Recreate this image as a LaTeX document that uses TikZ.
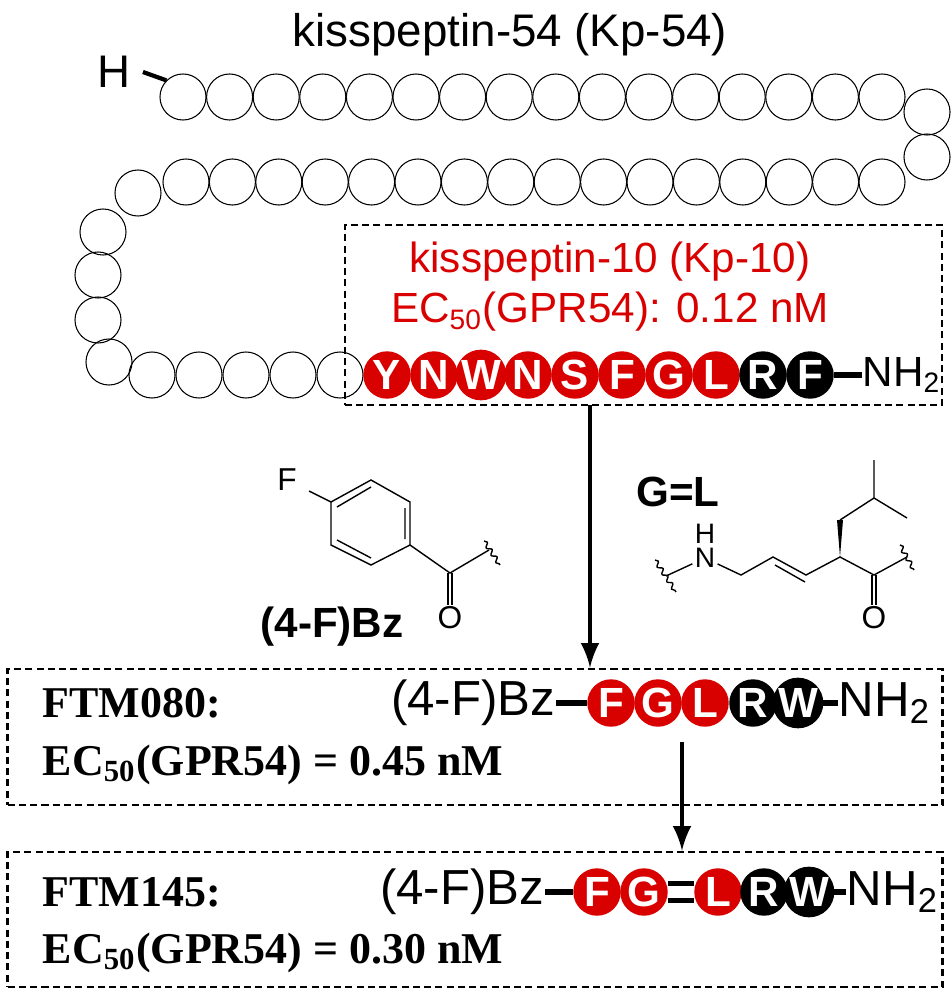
\documentclass[tikz,border=0pt]{standalone}
\usepackage{fontspec}
\setmainfont{Liberation Sans}
\newfontfamily\serifbf{Liberation Serif}
\usetikzlibrary{positioning,decorations.pathmorphing}

\begin{document}
\begin{tikzpicture}[
    x=0.01cm, y=-0.01cm,
    res/.style={circle, draw, line width=0.3pt, minimum size=0.46cm, inner sep=0pt},
    redres/.style={circle, draw=red!85!black, fill=red!85!black, text=white, minimum size=0.46cm, inner sep=0pt, font=\fontsize{12}{12}\selectfont\bfseries},
    blkres/.style={circle, draw=black, fill=black, text=white, minimum size=0.46cm, inner sep=0pt, font=\fontsize{12}{12}\selectfont\bfseries},
    dbox/.style={draw, dash pattern=on 2pt off 1.2pt, line width=0.7pt, inner sep=0pt},
    lbl/.style={font=\fontsize{12}{14}\selectfont},
    seq/.style={font=\fontsize{14}{14}\selectfont, inner sep=0pt},
    ftm/.style={font=\fontsize{12.5}{14}\selectfont\serifbf\bfseries, anchor=west, inner sep=0pt},
    bond/.style={line width=0.4pt},
    wavy/.style={line width=0.4pt, decorate, decoration={snake, amplitude=0.6pt, segment length=2.5pt}},
    arrow/.style={-latex, line width=1.4pt}
]
\useasboundingbox (0,0) rectangle (952,1000);

% Kp-54 chain
\node[lbl, font=\fontsize{13}{14}\selectfont] (title) at (510,35) {kisspeptin-54 (Kp-54)};
\node[lbl, font=\fontsize{13}{14}\selectfont] (hterm) at (114,72) {H};
\foreach \i in {0,...,15} {
    \node[res] (top\i) at (183+46.6*\i,97) {};
    \node[res] (mid\i) at (186+46.4*\i,182) {};
}
\node[res] (turn1) at (927,112) {};
\node[res] (turn2) at (927,157) {};
\node[res] (left1) at (138,193) {};
\node[res] (left2) at (103,232) {};
\node[res] (left3) at (98,275) {};
\node[res] (left4) at (98,320) {};
\node[res] (left5) at (109,362) {};
\foreach \i in {1,...,5}
    \node[res] (bot\i) at (387-47*\i,375) {};
\draw[line width=1.2pt] (hterm.east) -- (top0.north west);

% Kp-10
\node[dbox, minimum width=5.97cm, minimum height=1.8cm] (kpbox) at (643.5,315) {};
\node[lbl, text=red!85!black] (kpname) at (610,262) {kisspeptin-10 (Kp-10)};
\node[lbl, text=red!85!black] (kpec) at (610,312) {EC\textsubscript{50}(GPR54): 0.12 nM};
\foreach \a [count=\i from 0] in {Y,N,W,N,S,F,G,L}
    \node[redres] (kp\i) at (387+47*\i,375) {\a};
\node[blkres] (kp8) at (387+47*8,375) {R};
\node[blkres] (kp9) at (387+47*9,375) {F};
\node[lbl, anchor=west, inner sep=0pt] (kpnh) at (862,375) {NH\textsubscript{2}};
\draw[line width=1.5pt] (kp9.east) -- (kpnh.west);

% (4-F)Bz
\draw[bond] (371,480) -- (410,502) -- (410,545) -- (371,565) -- (331,545) -- (331,502) -- cycle;
\draw[bond] (405,508) -- (405,539) (371,558) -- (337,540) (337,507) -- (371,487);
\node[font=\fontsize{9}{9}\selectfont] (fluor) at (287,480) {F};
\draw[bond] (fluor) -- (331,502);
\draw[bond] (410,545) -- (450,573) -- (489,550);
\draw[wavy] (484,541) -- (500,565);
\draw[bond] (448,573) -- (448,605) (452,573) -- (452,605);
\node[font=\fontsize{9}{9}\selectfont] (oxy1) at (450,618) {O};
\node[lbl, font=\fontsize{12}{14}\selectfont\bfseries] (bzname) at (332,627) {(4-F)Bz};

% G=L
\node[lbl, font=\fontsize{12}{14}\selectfont\bfseries] (glname) at (678,492) {G=L};
\draw[wavy] (655,560) -- (676,592);
\node[font=\fontsize{8}{8}\selectfont, inner sep=0.5pt] (nit) at (705,558) {N};
\node[font=\fontsize{8}{8}\selectfont, inner sep=0.5pt] (hyd) at (705,534) {H};
\draw[bond] (666,576) -- (nit) -- (741,575) -- (773,557) -- (806,575) -- (840,557) -- (874,575) -- (907,557);
\draw[bond] (775,565) -- (805,582);
\fill (840,557) -- (837,520) -- (843,520) -- cycle;
\draw[bond] (840,520) -- (874,498) -- (874,460) (874,498) -- (907,518);
\draw[bond] (872,575) -- (872,605) (876,575) -- (876,605);
\draw[wavy] (900,545) -- (914,570);
\node[font=\fontsize{9}{9}\selectfont] (oxy2) at (874,618) {O};

% FTM080
\node[dbox, minimum width=9.34cm, minimum height=1.36cm] (box80) at (475,737) {};
\node[ftm] (ftm80) at (42,703) {FTM080:};
\node[ftm] (ec80) at (42,765) {EC\textsubscript{50}(GPR54) = 0.45 nM};
\node[seq, anchor=east] (bz80) at (556,703) {(4-F)Bz};
\node[redres] (f80) at (611,703) {F};
\node[redres] (g80) at (658,703) {G};
\node[redres] (l80) at (705,703) {L};
\node[blkres] (r80) at (753,703) {R};
\node[blkres] (w80) at (798,703) {W};
\node[seq, anchor=west] (nh80) at (838,703) {NH\textsubscript{2}};
\draw[line width=1.5pt] (bz80.east) -- (f80.west) (w80.east) -- (nh80.west);

% FTM145
\node[dbox, minimum width=9.34cm, minimum height=1.35cm] (box145) at (475,919.5) {};
\node[ftm] (ftm145) at (42,892) {FTM145:};
\node[ftm] (ec145) at (42,953) {EC\textsubscript{50}(GPR54) = 0.30 nM};
\node[seq, anchor=east] (bz145) at (545,892) {(4-F)Bz};
\node[redres] (f145) at (597,892) {F};
\node[redres] (g145) at (644,892) {G};
\node[redres] (l145) at (718,892) {L};
\node[blkres] (r145) at (764,892) {R};
\node[blkres] (w145) at (809,892) {W};
\node[seq, anchor=west] (nh145) at (846,892) {NH\textsubscript{2}};
\draw[line width=1.5pt] (bz145.east) -- (f145.west) (w145.east) -- (nh145.west);
\draw[line width=1.4pt] ([yshift=-2.5]g145.east) -- ([yshift=-2.5]l145.west)
                        ([yshift=2.5]g145.east) -- ([yshift=2.5]l145.west);

% Arrows
\draw[arrow] (590,405) -- (box80.north -| 590,0);
\draw[arrow] (682,742) -- (box145.north -| 682,0);
\end{tikzpicture}
\end{document}
